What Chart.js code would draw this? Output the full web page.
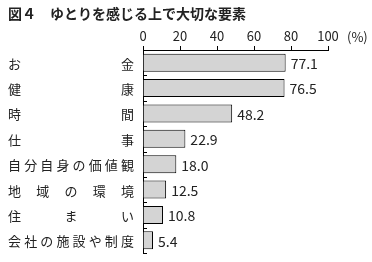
<!DOCTYPE html>
<html>
<head>
<meta charset="utf-8">
<script src="https://cdn.jsdelivr.net/npm/chart.js@4.4.0/dist/chart.umd.min.js"></script>
<style>
	body { margin: 0; background: #fff; }
	#wrap { width: 372px; height: 262px; position: relative; }
</style>
</head>
<body>
<div id="wrap"><canvas id="chart"></canvas></div>
<script>
const title_text = '図４　ゆとりを感じる上で大切な要素';
const categories = ['お金', '健康', '時間', '仕事', '自分自身の価値観', '地域の環境', '住まい', '会社の施設や制度'];
const values = [77.1, 76.5, 48.2, 22.9, 18.0, 12.5, 10.8, 5.4];
const x_ticks = [0, 20, 40, 60, 80, 100];

const jp_font = '"Noto Sans CJK JP", "Noto Sans", sans-serif';
const text_color = '#222';

// title, justified category labels, value labels, inside ticks, (%)
const extras = {
	id: 'extras',
	afterDraw(chart) {
		const ctx = chart.ctx;
		const area = chart.chartArea;
		const y_scale = chart.scales.y;
		const meta = chart.getDatasetMeta(0);
		ctx.save();
		ctx.fillStyle = text_color;

		ctx.font = 'bold 14px ' + jp_font;
		ctx.textBaseline = 'middle';
		ctx.textAlign = 'left';
		ctx.fillText(title_text, 8, 14);

		ctx.font = '13px ' + jp_font;
		ctx.fillText('(%)', 347, 37);

		// category labels spread from left to right edge
		ctx.font = '13px ' + jp_font;
		const left = 8, right = 134;
		categories.forEach(function(lbl, i) {
			const chars = Array.from(lbl);
			const y = y_scale.getPixelForValue(i);
			const cw = ctx.measureText(chars[0]).width;
			const step = (right - left - cw) / (chars.length - 1);
			chars.forEach(function(c, j) {
				ctx.fillText(c, left + j * step, y + 1);
			});
		});

		// value labels
		ctx.font = '14px ' + jp_font;
		meta.data.forEach(function(bar, i) {
			ctx.fillText(values[i].toFixed(1), bar.x + 5, bar.y + 1);
		});

		// small ticks on the inside of the y axis
		ctx.strokeStyle = '#000';
		ctx.lineWidth = 1;
		const n = categories.length;
		for (let i = 0; i <= n; i++) {
			const y = Math.round(y_scale.getPixelForValue(i - 0.5)) + 0.5;
			ctx.beginPath();
			ctx.moveTo(area.left, y);
			ctx.lineTo(area.left + 4, y);
			ctx.stroke();
		}
		ctx.restore();
	}
};

new Chart(document.getElementById('chart'), {
	type: 'bar',
	data: {
		labels: categories,
		datasets: [{
			data: values,
			backgroundColor: '#d4d4d4',
			borderColor: '#000',
			borderWidth: 1,
			barPercentage: 0.71,
			categoryPercentage: 1.0
		}]
	},
	options: {
		indexAxis: 'y',
		responsive: true,
		maintainAspectRatio: false,
		animation: false,
		devicePixelRatio: 1,
		layout: {
			padding: { left: 0, right: 44, top: 0, bottom: 9 }
		},
		plugins: {
			legend: { display: false },
			title: { display: false },
			tooltip: { enabled: false }
		},
		scales: {
			x: {
				position: 'top',
				min: 0,
				max: 100,
				afterFit: function(scale) { scale.height = 50; },
				afterBuildTicks: function(scale) {
					scale.ticks = x_ticks.map(function(v) { return { value: v }; });
				},
				ticks: {
					color: text_color,
					font: { size: 13, family: jp_font },
					padding: 2,
					maxRotation: 0
				},
				grid: {
					drawOnChartArea: false,
					drawTicks: true,
					tickLength: 4,
					color: '#000'
				},
				border: { display: true, color: '#000', width: 1 }
			},
			y: {
				afterFit: function(scale) { scale.width = 143; },
				ticks: { display: false },
				grid: {
					drawOnChartArea: false,
					drawTicks: false
				},
				border: { display: true, color: '#000', width: 1 }
			}
		}
	},
	plugins: [extras]
});
</script>
</body>
</html>
